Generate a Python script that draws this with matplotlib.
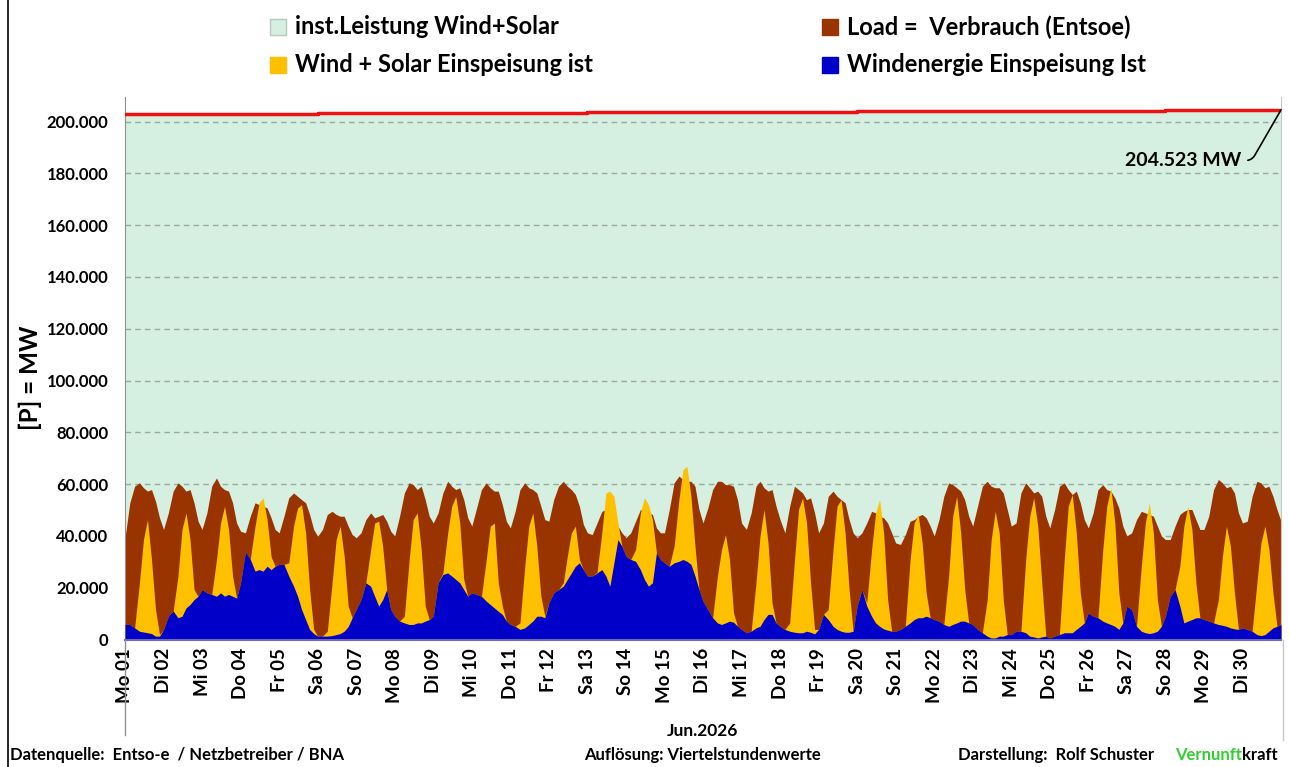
import numpy as np
import matplotlib.pyplot as plt
from matplotlib.patches import Rectangle
from matplotlib.lines import Line2D

plt.rcParams['font.family'] = ['Lato', 'DejaVu Sans']

# Stützstellen je Tag (Stunde des Tages), Werte in 1000 MW
stunden = [0, 3, 6, 9, 11.5, 14, 16.5, 19, 21.5]
wochentage = ["Mo", "Di", "Mi", "Do", "Fr", "Sa", "So"]

# Load = Verbrauch (Entsoe)
last = [
    [39.3, 52.8, 59.2, 60.5, 58.6, 57.3, 57.9, 53.4, 47.0],
    [42.5, 48.9, 57.3, 60.5, 59.2, 57.3, 57.9, 52.8, 45.7],
    [42.5, 48.9, 59.2, 62.4, 59.2, 57.9, 57.3, 52.8, 45.0],
    [41.8, 41.2, 47.6, 52.8, 52.1, 51.5, 50.8, 47.0, 42.5],
    [41.2, 47.6, 54.7, 56.6, 55.3, 54.0, 52.8, 48.3, 42.5],
    [39.9, 42.5, 48.3, 49.5, 48.3, 47.6, 47.6, 43.8, 40.5],
    [39.3, 41.2, 46.3, 48.9, 47.0, 47.6, 48.3, 45.7, 41.8],
    [40.0, 47.6, 56.6, 60.5, 59.8, 57.9, 59.2, 54.0, 47.6],
    [45.0, 48.9, 56.6, 61.1, 59.2, 57.9, 58.6, 54.0, 47.0],
    [43.8, 50.8, 57.9, 60.5, 58.6, 57.3, 57.3, 52.1, 45.7],
    [43.1, 49.5, 57.9, 60.5, 58.6, 57.9, 56.6, 51.5, 46.3],
    [45.7, 54.0, 59.2, 61.1, 59.2, 57.9, 56.0, 51.5, 44.4],
    [41.2, 40.5, 45.0, 49.5, 50.2, 49.5, 47.6, 43.8, 41.2],
    [39.3, 41.2, 45.7, 50.2, 49.5, 48.9, 48.3, 43.1, 41.2],
    [41.2, 50.2, 60.5, 63.1, 61.8, 61.1, 61.1, 59.2, 50.2],
    [45.0, 50.8, 57.9, 61.1, 61.1, 59.8, 59.8, 59.2, 54.0],
    [45.0, 42.5, 48.9, 59.2, 61.1, 58.6, 57.3, 57.9, 51.5],
    [46.3, 41.2, 51.5, 59.2, 57.9, 56.6, 54.0, 54.7, 48.9],
    [41.2, 45.0, 55.3, 57.3, 55.3, 54.0, 52.8, 46.3, 41.2],
    [39.3, 41.2, 45.0, 49.5, 48.9, 47.6, 47.0, 45.0, 41.2],
    [37.3, 36.7, 40.5, 45.7, 46.3, 47.6, 48.3, 47.0, 43.8],
    [40.0, 46.3, 55.3, 60.5, 59.8, 58.6, 57.3, 54.0, 47.6],
    [43.8, 51.5, 59.2, 61.1, 59.2, 58.6, 58.6, 56.6, 50.2],
    [43.8, 45.0, 56.6, 60.5, 58.6, 56.6, 57.3, 55.3, 47.6],
    [43.1, 50.2, 59.2, 60.5, 57.9, 56.0, 57.3, 52.8, 46.3],
    [43.1, 48.9, 57.9, 59.8, 57.9, 57.3, 54.7, 50.8, 43.8],
    [40.0, 41.2, 46.3, 49.5, 48.9, 48.3, 47.6, 43.8, 40.0],
    [38.6, 38.6, 43.8, 48.3, 49.5, 50.2, 50.2, 46.3, 42.5],
    [42.5, 47.6, 57.9, 61.8, 60.5, 58.6, 59.2, 56.6, 48.9],
    [45.0, 45.7, 55.3, 61.1, 60.5, 58.6, 59.2, 55.3, 50.2],
]
last_ende = 45.7

# Wind + Solar Einspeisung ist
wind_solar = [
    [5.8, 5.8, 4.5, 21.9, 38.6, 46.3, 30.9, 11.6, 1.9],
    [3.9, 9.0, 11.0, 24.5, 42.5, 48.9, 38.6, 19.3, 16.7],
    [19.3, 18.0, 17.4, 30.9, 45.0, 51.5, 42.5, 24.5, 16.0],
    [22.0, 34.0, 31.0, 43.8, 52.8, 54.7, 46.3, 32.0, 28.3],
    [29.0, 29.0, 29.6, 43.8, 50.8, 52.1, 41.2, 19.3, 3.9],
    [1.3, 1.3, 3.2, 21.9, 38.6, 43.8, 32.2, 12.9, 8.4],
    [11.6, 15.4, 21.9, 34.7, 45.0, 45.7, 36.0, 19.3, 11.6],
    [9.0, 7.1, 9.0, 30.9, 46.3, 48.9, 34.7, 12.9, 7.7],
    [9.0, 21.9, 25.7, 41.2, 51.5, 55.3, 45.0, 23.2, 16.7],
    [18.0, 17.4, 16.7, 30.9, 43.8, 45.0, 21.9, 12.9, 7.1],
    [5.8, 5.1, 6.4, 28.3, 43.8, 48.9, 36.0, 16.7, 9.0],
    [14.2, 18.0, 19.3, 21.9, 32.2, 41.2, 43.8, 30.9, 27.0],
    [24.5, 24.5, 26.0, 41.2, 56.6, 57.3, 55.3, 45.0, 36.0],
    [32.2, 30.9, 34.7, 48.9, 54.7, 52.1, 46.3, 33.5, 30.9],
    [29.6, 28.3, 36.0, 54.0, 65.6, 66.9, 55.3, 36.0, 19.3],
    [14.8, 11.6, 8.4, 24.5, 34.7, 40.5, 30.9, 10.3, 5.1],
    [3.9, 2.6, 3.2, 21.9, 39.9, 50.2, 37.3, 14.2, 6.4],
    [5.1, 3.9, 6.4, 30.9, 50.2, 54.7, 45.0, 21.9, 3.9],
    [3.9, 9.7, 11.6, 34.7, 51.5, 54.0, 41.2, 19.3, 3.2],
    [12.9, 19.3, 14.2, 34.7, 48.9, 54.0, 41.2, 15.4, 3.2],
    [3.2, 3.9, 5.1, 30.9, 45.0, 48.3, 37.3, 18.0, 8.4],
    [7.7, 7.1, 5.8, 24.5, 47.6, 55.3, 41.2, 19.3, 6.4],
    [5.8, 3.9, 2.6, 15.4, 38.6, 49.5, 41.2, 15.4, 1.9],
    [1.9, 3.2, 3.2, 30.9, 47.6, 54.7, 43.8, 21.9, 1.3],
    [0.6, 1.3, 1.9, 30.9, 51.5, 56.0, 41.2, 18.0, 6.4],
    [10.3, 9.0, 8.4, 34.7, 51.5, 58.6, 45.0, 18.0, 6.4],
    [12.9, 11.6, 5.1, 28.3, 45.0, 52.8, 41.2, 15.4, 5.1],
    [9.0, 16.7, 19.3, 28.3, 43.8, 51.5, 42.5, 21.9, 8.4],
    [7.7, 7.1, 6.4, 15.4, 32.2, 43.8, 36.0, 18.0, 3.9],
    [4.5, 3.9, 3.2, 21.9, 37.3, 43.8, 34.7, 18.0, 5.1],
]
wind_solar_ende = 5.8

# Windenergie Einspeisung Ist
wind = [
    [5.8, 5.8, 4.5, 3.2, 2.9, 2.6, 2.3, 1.3, 1.3],
    [3.9, 9.0, 11.0, 8.4, 9.0, 12.2, 13.5, 15.4, 16.7],
    [19.3, 18.0, 17.4, 16.7, 18.0, 16.7, 17.4, 16.7, 16.0],
    [22.0, 34.0, 31.0, 26.4, 27.0, 26.4, 28.3, 27.0, 28.3],
    [29.0, 29.0, 24.5, 20.6, 16.7, 11.6, 7.7, 3.9, 2.3],
    [1.3, 1.3, 1.3, 1.5, 1.9, 2.3, 3.2, 5.0, 8.4],
    [11.6, 15.4, 21.9, 20.6, 16.7, 12.9, 15.4, 19.3, 11.6],
    [9.0, 7.1, 6.4, 5.8, 5.8, 6.4, 6.4, 7.1, 7.7],
    [9.0, 21.9, 25.1, 25.7, 24.5, 23.2, 21.9, 19.3, 16.7],
    [18.0, 17.4, 16.7, 14.8, 13.5, 12.2, 10.9, 9.7, 7.1],
    [5.8, 5.1, 3.9, 4.5, 5.8, 7.1, 9.0, 9.0, 8.4],
    [14.2, 18.0, 19.3, 20.6, 23.2, 25.7, 28.3, 29.6, 27.0],
    [24.5, 24.5, 25.7, 27.0, 24.5, 20.6, 29.6, 38.6, 36.0],
    [32.2, 30.9, 30.2, 27.0, 23.2, 20.6, 21.9, 33.5, 30.9],
    [29.6, 28.3, 29.6, 30.2, 30.9, 30.2, 29.0, 24.5, 19.3],
    [14.8, 11.6, 8.4, 6.4, 5.8, 6.4, 7.1, 6.7, 5.1],
    [3.9, 2.6, 3.2, 4.5, 5.1, 7.7, 9.7, 9.7, 6.4],
    [5.1, 3.9, 3.2, 2.8, 2.6, 2.6, 3.2, 2.8, 2.2],
    [3.9, 9.7, 7.7, 5.1, 3.9, 3.2, 2.8, 2.8, 3.2],
    [12.9, 19.3, 12.9, 9.0, 6.4, 5.1, 4.1, 3.6, 3.2],
    [3.2, 3.9, 5.1, 6.4, 7.7, 8.4, 8.4, 9.0, 8.4],
    [7.7, 7.1, 5.8, 5.1, 5.8, 6.4, 7.1, 7.1, 6.4],
    [5.8, 3.9, 2.6, 1.3, 0.6, 0.6, 1.3, 1.3, 1.9],
    [1.9, 3.2, 3.2, 2.6, 1.3, 1.0, 0.6, 1.0, 1.3],
    [0.6, 1.3, 1.9, 2.6, 2.6, 2.6, 3.9, 5.1, 6.4],
    [10.3, 9.0, 8.4, 7.1, 6.4, 5.8, 5.1, 3.9, 6.4],
    [12.9, 11.6, 5.1, 3.2, 2.6, 2.3, 2.6, 3.2, 5.1],
    [9.0, 16.7, 19.3, 12.9, 6.4, 7.1, 7.7, 8.4, 8.4],
    [7.7, 7.1, 6.4, 5.8, 5.5, 5.1, 4.5, 4.1, 3.9],
    [4.5, 3.9, 3.2, 1.9, 1.5, 1.9, 3.2, 4.5, 5.1],
]
wind_ende = 5.8

# installierte Leistung Wind+Solar (MW), Stufen ab Tag
leistung_tage = [0, 5, 12, 19, 27, 30]
leistung_mw = [203000, 203400, 203800, 204200, 204523, 204523]

# Zeitachse in Tagen
anz_tage = len(last)
t = np.array([d + h / 24 for d in range(anz_tage) for h in stunden] + [anz_tage])
y_last = np.append(np.ravel(last), last_ende) * 1000
y_ws = np.append(np.ravel(wind_solar), wind_solar_ende) * 1000
y_wind = np.append(np.ravel(wind), wind_ende) * 1000

W, H = 1290, 767
fig = plt.figure(figsize=(W / 100, H / 100), dpi=100)
ax = fig.add_axes([125 / W, 1 - 639.5 / H, (1281 - 125) / W, (639.5 - 97) / H])

gruen = '#d5f0e1'
braun = '#993300'
gelb = '#ffc000'
blau = '#0000c8'

ax.fill_between(leistung_tage, 0, leistung_mw, step='post', color=gruen, lw=0, zorder=1)
for v in range(20000, 200001, 20000):
    ax.axhline(v, color='#9aa8a0', ls=(0, (4, 3)), lw=1, zorder=1.5)
ax.fill_between(t, 0, y_last, color=braun, lw=0, zorder=2)
ax.fill_between(t, 0, y_ws, color=gelb, lw=0, zorder=3)
ax.fill_between(t, 0, y_wind, color=blau, lw=0, zorder=4)
ax.step(leistung_tage, leistung_mw, where='post', color='#ee1111', lw=2.5, zorder=5)

ax.set_xlim(0, anz_tage)
ax.set_ylim(0, 209500)

ax.set_yticks(range(0, 200001, 20000))
ax.set_yticklabels([f"{v:,}".replace(',', '.') for v in range(0, 200001, 20000)],
                   fontsize=12, fontweight='bold')
tage_labels = [f"{wochentage[i % 7]} {i + 1:02d}" for i in range(anz_tage)]
ax.set_xticks(range(anz_tage))
ax.set_xticklabels(tage_labels, rotation=90, fontsize=13.5, fontweight='bold')
ax.tick_params(axis='both', length=0)
ax.tick_params(axis='x', pad=6)
ax.tick_params(axis='y', pad=12)

ax.spines['top'].set_visible(False)
ax.spines['left'].set_color('#909090')
ax.spines['right'].set_color('#c8c8c8')
ax.spines['bottom'].set_color('#6a6ab8')
ax.spines['bottom'].set_linewidth(1.5)
ax.spines['bottom'].set_zorder(6)

ax.annotate("204.523 MW", xy=(anz_tage, 204523), xytext=(28.96, 185000),
            fontsize=14, fontweight='bold', ha='right', va='center',
            arrowprops=dict(arrowstyle='-', color='black', lw=1.2, shrinkA=3, shrinkB=0,
                            connectionstyle="angle,angleA=0,angleB=60,rad=6"),
            zorder=7)

fig.text(30 / W, 1 - 378 / H, "[P] = MW", rotation=90, fontsize=17.5, fontweight='bold',
         ha='center', va='center')

# Legende
legende = [
    (270, 27, gruen, '#b8c8be', "inst.Leistung Wind+Solar"),
    (270, 65, gelb, gelb, "Wind + Solar Einspeisung ist"),
    (822, 27, braun, braun, "Load =  Verbrauch (Entsoe)"),
    (822, 65, blau, blau, "Windenergie Einspeisung Ist"),
]
for x, y, fc, ec, txt in legende:
    fig.patches.append(Rectangle((x / W, 1 - (y + 8) / H), 16 / W, 16 / H, facecolor=fc,
                                 edgecolor=ec, lw=1, transform=fig.transFigure, figure=fig))
    fig.text((x + 25) / W, 1 - y / H, txt, fontsize=17, fontweight='bold', va='center')

# Rahmenlinien
fig.add_artist(Line2D([8 / W, 8 / W], [0, 1], color='black', lw=1.2))
fig.add_artist(Line2D([125 / W, 125 / W], [1 - 735 / H, 1 - 640 / H], color='#909090', lw=1))
fig.add_artist(Line2D([1283 / W, 1283 / W], [1 - 740 / H, 1 - 640 / H], color='#c8c8c8', lw=1))

# Fußzeile
fig.text(702 / W, 1 - 731 / H, "Jun.2026", fontsize=12.5, fontweight='bold', ha='center', va='center')
fig.text(10 / W, 1 - 755 / H, "Datenquelle:  Entso-e  / Netzbetreiber / BNA", fontsize=12,
         fontweight='bold', va='center')
fig.text(702 / W, 1 - 755 / H, "Auflösung: Viertelstundenwerte", fontsize=12,
         fontweight='bold', ha='center', va='center')
fig.text(958 / W, 1 - 755 / H, "Darstellung:  Rolf Schuster", fontsize=12,
         fontweight='bold', va='center')
kraft = fig.text(1278 / W, 1 - 755 / H, "kraft", fontsize=12, fontweight='bold',
                 ha='right', va='center')
ax.annotate("Vernunft", xy=(0, 0), xycoords=kraft, ha='right', va='bottom',
            fontsize=12, fontweight='bold', color='#33cc33', annotation_clip=False)

fig.savefig("out.png", dpi=100)
